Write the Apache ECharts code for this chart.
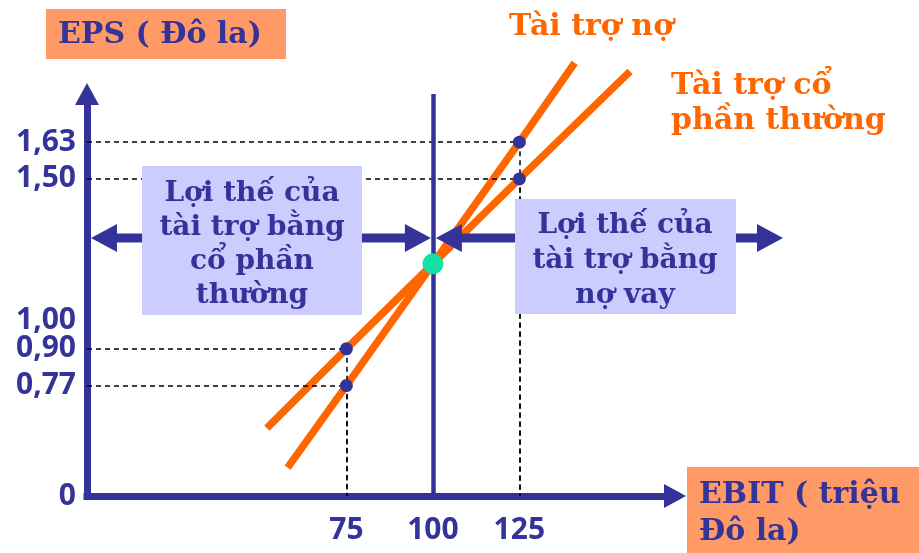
<!DOCTYPE html>
<html>
<head>
<meta charset="utf-8">
<script src="https://cdn.jsdelivr.net/npm/echarts@6.0.0/dist/echarts.min.js"></script>
<style>
  html, body { margin: 0; padding: 0; background: #fff; }
  #chart { width: 919px; height: 553px; }
</style>
</head>
<body>
<div id="chart"></div>
<script>
// EPS - EBIT: điểm bàng quan giữa tài trợ nợ và tài trợ cổ phần thường
var xTicks = [75, 100, 125];
var yTicks = [0, 0.77, 0.90, 1.00, 1.50, 1.63];
// đường thẳng EPS theo EBIT (gồm cả hai đầu mút)
var debtLine = [[58, 0.48], [75, 0.77], [125, 1.63], [141, 1.91]];
var stockLine = [[52, 0.62], [75, 0.90], [125, 1.50], [157, 1.88]];
var markedPoints = [[75, 0.90], [75, 0.77], [125, 1.63], [125, 1.50]];
var indifference = [[100, 1.20]];
var breakEven = 100;

var navy = '#333399';
var orange = '#FF6600';
var salmon = '#FF9966';
var lavender = '#CCCCFF';
var serif = '"DejaVu Serif", serif';
var sans = '"Open Sans", sans-serif';

var guides = [];
markedPoints.forEach(function (p) {
  guides.push([{ coord: [0, p[1]] }, { coord: [p[0], p[1]] }]);
  guides.push([{ coord: [p[0], p[1]] }, { coord: [p[0], 0] }]);
});

function axisBase() {
  return {
    type: 'value',
    min: 0,
    axisLine: {
      symbol: ['none', 'triangle'],
      symbolSize: [24, 22],
      lineStyle: { color: navy, width: 7, cap: 'square' }
    },
    axisTick: { show: false },
    splitLine: { show: false },
    axisLabel: {
      color: navy,
      fontFamily: sans,
      fontWeight: 'bold',
      fontSize: 30
    }
  };
}

var xAxis = axisBase();
xAxis.max = 170;
xAxis.axisLabel.customValues = xTicks;
xAxis.axisLabel.margin = 19;

var yAxis = axisBase();
yAxis.max = 1.8;
yAxis.breaks = [{ start: 0.03, end: 0.43, gap: 0.02 }];
yAxis.breakArea = { show: false };
yAxis.axisLabel.customValues = yTicks;
yAxis.axisLabel.margin = 11;
yAxis.axisLabel.formatter = function (v) {
  return v === 0 ? '0' : v.toFixed(2).replace('.', ',');
};

var chart = echarts.init(document.getElementById('chart'));
chart.setOption({
  animation: false,
  backgroundColor: '#fff',
  grid: { left: 87, right: 244, top: 94, bottom: 57, outerBoundsMode: 'none' },
  xAxis: xAxis,
  yAxis: yAxis,
  series: [
    {
      type: 'line',
      data: [],
      z: 1,
      markLine: {
        silent: true,
        symbol: 'none',
        label: { show: false },
        lineStyle: { color: '#000', width: 1.5, type: [5, 4] },
        data: guides.concat([{ xAxis: breakEven, lineStyle: { color: navy, width: 4.5, type: 'solid' } }])
      }
    },
    {
      name: 'Tài trợ nợ',
      type: 'line',
      data: debtLine,
      showSymbol: false,
      clip: false,
      z: 3,
      lineStyle: { color: orange, width: 7.5, cap: 'butt' }
    },
    {
      name: 'Tài trợ cổ phần thường',
      type: 'line',
      data: stockLine,
      showSymbol: false,
      clip: false,
      z: 3,
      lineStyle: { color: orange, width: 7.5, cap: 'butt' }
    },
    {
      type: 'scatter',
      data: markedPoints,
      symbolSize: 13,
      z: 5,
      itemStyle: { color: navy, opacity: 1 }
    },
    {
      type: 'scatter',
      data: indifference,
      symbolSize: 21,
      z: 6,
      itemStyle: { color: '#14E0A4', opacity: 1 }
    }
  ]
});

// mũi tên hai đầu, chạm trục tung và đường EBIT = 100
function dblArrow(x1, x2, y) {
  var h = 26, hh = 14, sh = 4.5;
  return [[x1, y], [x1 + h, y - hh], [x1 + h, y - sh], [x2 - h, y - sh], [x2 - h, y - hh],
          [x2, y], [x2 - h, y + hh], [x2 - h, y + sh], [x1 + h, y + sh], [x1 + h, y + hh]];
}
var x0 = chart.convertToPixel({ xAxisIndex: 0 }, 0);
var xb = chart.convertToPixel({ xAxisIndex: 0 }, breakEven);
var arrowY = 238;

function txt(x, y, text, font, color, align, lh) {
  return {
    type: 'text', z: 120, x: x, y: y,
    style: { text: text, font: font, fill: color, align: align, textAlign: align,
             verticalAlign: 'middle', textVerticalAlign: 'middle', lineHeight: lh }
  };
}

chart.setOption({
  graphic: [
    { type: 'polygon', z: 90, shape: { points: dblArrow(x0 + 4, xb - 2, arrowY) }, style: { fill: navy } },
    { type: 'polygon', z: 90, shape: { points: dblArrow(xb + 3, 783, arrowY) }, style: { fill: navy } },
    { type: 'rect', z: 100, shape: { x: 142, y: 166, width: 220, height: 149 }, style: { fill: lavender } },
    { type: 'rect', z: 100, shape: { x: 515, y: 199, width: 221, height: 115 }, style: { fill: lavender } },
    { type: 'rect', z: 100, shape: { x: 46, y: 9, width: 240, height: 50 }, style: { fill: salmon } },
    { type: 'rect', z: 100, shape: { x: 687, y: 467, width: 232, height: 86 }, style: { fill: salmon } },
    txt(252, 245, 'Lợi thế của\ntài trợ bằng\ncổ phần\nthường', 'bold 28px ' + serif, navy, 'center', 34),
    txt(625, 261, 'Lợi thế của\ntài trợ bằng\nnợ vay', 'bold 28px ' + serif, navy, 'center', 35),
    txt(58, 35, 'EPS ( Đô la)', 'bold 30px ' + serif, navy, 'left', 34),
    txt(699, 514, 'EBIT ( triệu\nĐô la)', 'bold 30px ' + serif, navy, 'left', 37),
    txt(509, 27, 'Tài trợ nợ', 'bold 30px ' + serif, orange, 'left', 34),
    txt(671, 104, 'Tài trợ cổ\nphần thường', 'bold 30px ' + serif, orange, 'left', 35)
  ]
});

window.addEventListener('resize', function () { chart.resize(); });
</script>
</body>
</html>
